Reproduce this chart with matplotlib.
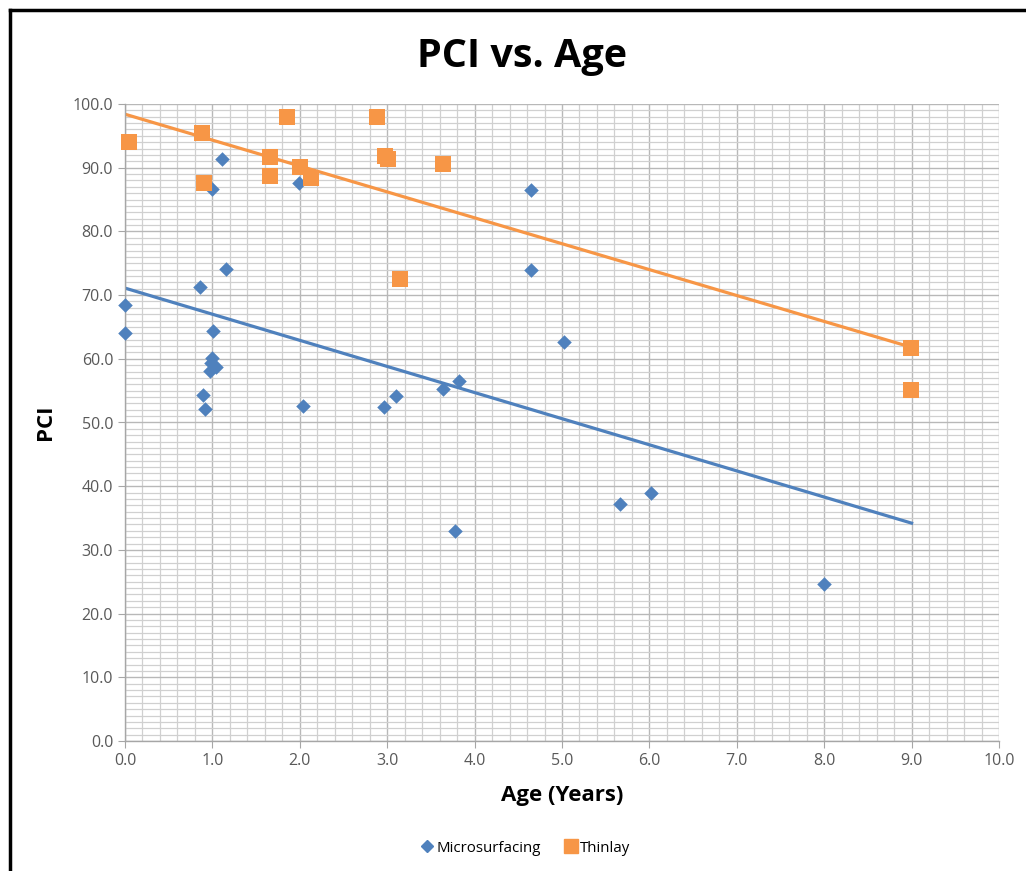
import numpy as np
import matplotlib.pyplot as plt
from matplotlib.lines import Line2D
from matplotlib.ticker import MultipleLocator, FormatStrFormatter

BLUE = "#4f81bd"
ORANGE = "#f79646"
TICK_GRAY = "#595959"

plt.rcParams['font.family'] = ['Open Sans', 'DejaVu Sans']

# Microsurfacing
micro_age = [0.0, 0.0, 0.86, 0.89, 0.91, 0.97, 0.99, 0.98, 1.04, 1.01, 0.99, 1.11, 1.16,
             1.99, 2.04, 2.96, 3.10, 3.64, 3.82, 3.78, 4.65, 4.65, 5.02, 5.66, 6.02, 8.0]
micro_pci = [68.4, 64.0, 71.3, 54.3, 52.1, 58.1, 60.1, 59.4, 58.7, 64.4, 86.7, 91.4, 74.1,
             87.6, 52.6, 52.4, 54.2, 55.3, 56.5, 33.0, 86.5, 73.9, 62.6, 37.2, 38.9, 24.6]

# Thinlay
thin_age = [0.05, 0.88, 0.90, 1.66, 1.66, 1.85, 2.00, 2.13, 2.88, 2.97, 3.01, 3.15, 3.64, 8.99, 8.99]
thin_pci = [94.0, 95.4, 87.6, 91.7, 88.7, 98.0, 90.1, 88.4, 98.0, 91.8, 91.4, 72.5, 90.6, 61.7, 55.1]

# trendline endpoints
trend_x = [0.0, 9.0]
micro_trend = [71.1, 34.2]
thin_trend = [98.4, 61.8]

fig = plt.figure(figsize=(10.26, 8.71), dpi=100)
ax = fig.add_axes([125 / 1026, 1 - 741 / 871, 874 / 1026, 637 / 871])

ax.set_xlim(0, 10)
ax.set_ylim(0, 100)
ax.xaxis.set_major_locator(MultipleLocator(1))
ax.xaxis.set_minor_locator(MultipleLocator(0.2))
ax.yaxis.set_major_locator(MultipleLocator(10))
ax.yaxis.set_minor_locator(MultipleLocator(1))
ax.xaxis.set_major_formatter(FormatStrFormatter('%.1f'))
ax.yaxis.set_major_formatter(FormatStrFormatter('%.1f'))

ax.grid(which='major', color='#b8b8b8', linewidth=1.0)
ax.grid(which='minor', color='#d0d0d0', linewidth=0.9)
ax.set_axisbelow(True)

for s in ['top', 'right']:
    ax.spines[s].set_visible(False)
for s in ['left', 'bottom']:
    ax.spines[s].set_color('#a6a6a6')
    ax.spines[s].set_linewidth(1.0)

ax.tick_params(which='major', direction='out', length=5, color='#a6a6a6',
               labelcolor=TICK_GRAY, labelsize=11.5)
ax.tick_params(which='minor', length=0)

ax.plot(trend_x, thin_trend, color=ORANGE, linewidth=2.3, zorder=2)
ax.plot(trend_x, micro_trend, color=BLUE, linewidth=2.3, zorder=2)

ax.scatter(micro_age, micro_pci, marker='D', s=55, color=BLUE, zorder=3,
           linewidths=0, label='Microsurfacing', clip_on=False)
ax.scatter(thin_age, thin_pci, marker='s', s=130, color=ORANGE, zorder=3,
           linewidths=0, label='Thinlay', clip_on=False)

fig.text(522 / 1026, 1 - 57 / 871, 'PCI vs. Age', ha='center', va='center',
         fontsize=28.5, fontweight='bold')
ax.set_xlabel('Age (Years)', fontsize=16, fontweight='bold', labelpad=12)
ax.set_ylabel('PCI', fontsize=16, fontweight='bold', labelpad=12)

handles = [Line2D([], [], marker='D', color=BLUE, linestyle='', markersize=6),
           Line2D([], [], marker='s', color=ORANGE, linestyle='', markersize=10)]
fig.legend(handles, ['Microsurfacing', 'Thinlay'], loc='center',
           bbox_to_anchor=(525 / 1026, 1 - 848 / 871), ncol=2, frameon=False,
           fontsize=10.8, handletextpad=0.1, columnspacing=1.5, handlelength=1.0)

# outer frame (left and top edges)
fig.add_artist(Line2D([10 / 1026, 10 / 1026], [0, 1 - 10 / 871], color='black', linewidth=2.5))
fig.add_artist(Line2D([10 / 1026, 1], [1 - 10 / 871, 1 - 10 / 871], color='black', linewidth=2.5))

fig.savefig('out.png', dpi=100)
